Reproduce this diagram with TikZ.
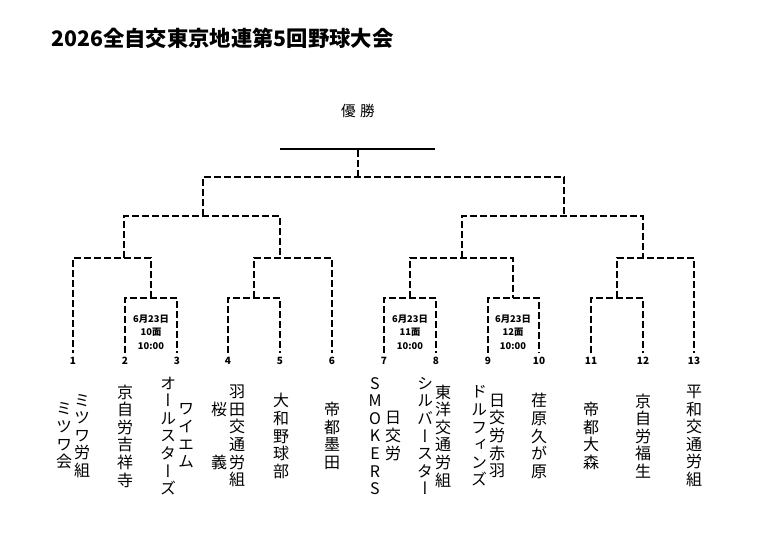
\documentclass[tikz,border=0pt]{standalone}
\usepackage{fontspec}
\newfontfamily\jp{Noto Sans CJK JP}
\newfontfamily\jpv{Noto Sans CJK JP}[RawFeature=+vert]

\begin{document}
\begin{tikzpicture}[x=0.75pt,y=-0.75pt,
  bracket/.style={line width=1.3pt,dash pattern=on 5pt off 2.5pt},
  final/.style={line width=2pt},
  seed/.style={font=\jp\bfseries\fontsize{7.5pt}{9pt}\selectfont,inner sep=0pt},
  slot/.style={font=\jp\bfseries\fontsize{7pt}{10pt}\selectfont,align=center,inner sep=0pt},
  team/.style={font=\jpv\fontsize{12pt}{13.2pt}\selectfont,align=center,inner sep=0pt}]
\path[use as bounding box,fill=white] (0,0) rectangle (768,543);

\node[font=\jp\bfseries\fontsize{16pt}{18pt}\selectfont,anchor=west,inner sep=0pt] (title) at (51,38) {2026全自交東京地連第5回野球大会};
\node[font=\jp\fontsize{11pt}{13pt}\selectfont,inner sep=0pt] (win) at (358,111) {優\hspace{0.3em}勝};

% leaf ends
\coordinate (l1) at (73,353);
\coordinate (l2) at (125,353);
\coordinate (l3) at (177,353);
\coordinate (l4) at (228,353);
\coordinate (l5) at (280,353);
\coordinate (l6) at (332,353);
\coordinate (l7) at (384,353);
\coordinate (l8) at (436,353);
\coordinate (l9) at (488,353);
\coordinate (l10) at (539,353);
\coordinate (l11) at (591,353);
\coordinate (l12) at (643,353);
\coordinate (l13) at (694,353);

% joins
\coordinate (m23) at (151,298);
\coordinate (m45) at (254,298);
\coordinate (m78) at (410,298);
\coordinate (m910) at (513,298);
\coordinate (m1112) at (617,298);
\coordinate (q1) at (124,258);
\coordinate (q2) at (280,258);
\coordinate (q3) at (462,258);
\coordinate (q4) at (643,258);
\coordinate (h1) at (203,216);
\coordinate (h2) at (564,216);
\coordinate (f) at (358,177);
\coordinate (w) at (358,149);
\coordinate (wl) at (280,149);
\coordinate (wr) at (435,149);

\draw[bracket] (l2) |- (m23) -| (l3);
\draw[bracket] (m23) |- (q1) -| (l1);
\draw[bracket] (l4) |- (m45) -| (l5);
\draw[bracket] (m45) |- (q2) -| (l6);
\draw[bracket] (q1) |- (h1) -| (q2);
\draw[bracket] (l7) |- (m78) -| (l8);
\draw[bracket] (l9) |- (m910) -| (l10);
\draw[bracket] (m78) |- (q3) -| (m910);
\draw[bracket] (l11) |- (m1112) -| (l12);
\draw[bracket] (m1112) |- (q4) -| (l13);
\draw[bracket] (q3) |- (h2) -| (q4);
\draw[bracket] (h1) |- (f) -| (h2);
\draw[bracket] (f) -- (w);
\draw[final] (wl) -- (wr);

% match slots
\node[slot] (s23) at (151,332) {6月23日\\10面\\10:00};
\node[slot] (s78) at (410,332) {6月23日\\11面\\10:00};
\node[slot] (s910) at (513,332) {6月23日\\12面\\10:00};

% seeds
\node[seed] (n1) at (73,361) {1};
\node[seed] (n2) at (125,361) {2};
\node[seed] (n3) at (177,361) {3};
\node[seed] (n4) at (228,361) {4};
\node[seed] (n5) at (280,361) {5};
\node[seed] (n6) at (332,361) {6};
\node[seed] (n7) at (384,361) {7};
\node[seed] (n8) at (436,361) {8};
\node[seed] (n9) at (488,361) {9};
\node[seed] (n10) at (539,361) {10};
\node[seed] (n11) at (591,361) {11};
\node[seed] (n12) at (643,361) {12};
\node[seed] (n13) at (694,361) {13};

% teams
\node[team] (t1a) at (82,436) {ミ\\ツ\\ワ\\労\\組};
\node[team] (t1b) at (64,436) {ミ\\ツ\\ワ\\会};
\node[team] (t2) at (125,436) {京\\自\\労\\吉\\祥\\寺};
\node[team] (t3a) at (186,436) {ワ\\イ\\エ\\ム};
\node[team] (t3b) at (168,436) {オ\\ー\\ル\\ス\\タ\\ー\\ズ};
\node[team] (t4a) at (237,436) {羽\\田\\交\\通\\労\\組};
\node[team] (t4b) at (219,436) {桜\\　\\　\\義};
\node[team] (t5) at (281,436) {大\\和\\野\\球\\部};
\node[team] (t6) at (332,436) {帝\\都\\墨\\田};
\node[team] (t7a) at (393,436) {日\\交\\労};
\node[team] (t7b) at (375,436) {S\\M\\O\\K\\E\\R\\S};
\node[team] (t8a) at (443,436) {東\\洋\\交\\通\\労\\組};
\node[team] (t8b) at (425,436) {シ\\ル\\バ\\ー\\ス\\タ\\ー};
\node[team] (t9a) at (497,436) {日\\交\\労\\赤\\羽};
\node[team] (t9b) at (479,436) {ド\\ル\\フ\\ィ\\ン\\ズ};
\node[team] (t10) at (539,436) {荏\\原\\久\\が\\原};
\node[team] (t11) at (591,436) {帝\\都\\大\\森};
\node[team] (t12) at (643,436) {京\\自\\労\\福\\生};
\node[team] (t13) at (694,436) {平\\和\\交\\通\\労\\組};
\end{tikzpicture}
\end{document}
